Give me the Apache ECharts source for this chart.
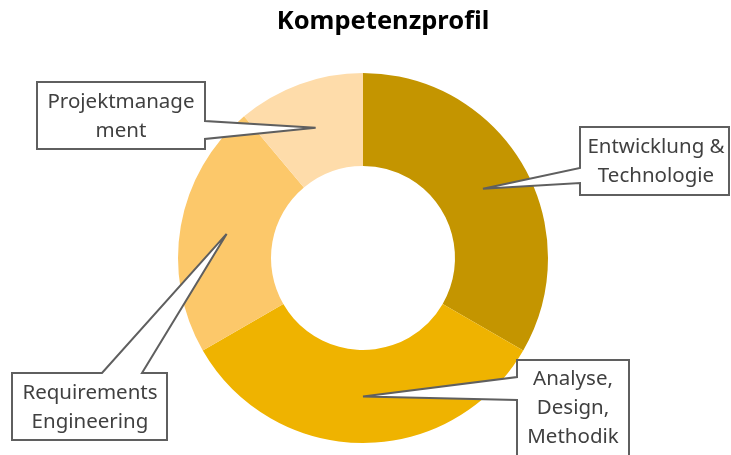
<!DOCTYPE html>
<html>
<head>
<meta charset="utf-8">
<script src="https://cdn.jsdelivr.net/npm/echarts@6/dist/echarts.min.js"></script>
<style>
  html, body { margin: 0; padding: 0; background: #ffffff; }
  #chart { width: 731px; height: 455px; }
</style>
</head>
<body>
<div id="chart"></div>
<script>
// Competence profile: share of each field
const categories = ['Entwicklung & Technologie', 'Analyse, Design, Methodik', 'Requirements Engineering', 'Projektmanagement'];
const values = [3, 3, 2, 1];
const calloutTexts = ['Entwicklung &\nTechnologie', 'Analyse,\nDesign,\nMethodik', 'Requirements\nEngineering', 'Projektmanage\nment'];
const sliceColors = ['#C49500', '#EFB300', '#FCC86A', '#FEDCAA'];
const titleText = 'Kompetenzprofil';

// Callout boxes (pixels): box rect, side the pointer leaves from, and the pointer base span on that side
const callouts = [
  { box: [580, 127, 149, 68], side: 'left', span: [168, 183], textPos: [656, 162] },
  { box: [517, 360, 112, 110], side: 'left', span: [377, 400], textPos: [573, 408] },
  { box: [12, 373, 155, 67], side: 'top', span: [102, 142], textPos: [90, 408] },
  { box: [37, 82, 168, 67], side: 'right', span: [121, 139], textPos: [121, 117] }
];

const chart = echarts.init(document.getElementById('chart'), null, { renderer: 'canvas' });

chart.setOption({
  animation: false,
  backgroundColor: '#ffffff',
  series: [{
    type: 'pie',
    center: [363, 258],
    radius: [92, 185],
    startAngle: 90,
    clockwise: true,
    label: { show: false },
    labelLine: { show: false },
    emphasis: { disabled: true },
    data: categories.map((name, i) => ({
      name: name,
      value: values[i],
      itemStyle: { color: sliceColors[i] }
    }))
  }]
});

// Build a rectangle outline with a pointed wedge reaching to the tip
function calloutPoints(c, tip) {
  const [x, y, w, h] = c.box;
  const [a, b] = c.span;
  const TL = [x, y], TR = [x + w, y], BR = [x + w, y + h], BL = [x, y + h];
  if (c.side === 'top') return [TL, [a, y], tip, [b, y], TR, BR, BL];
  if (c.side === 'right') return [TL, TR, [x + w, a], tip, [x + w, b], BR, BL];
  return [TL, TR, BR, BL, [x, b], tip, [x, a]];
}

const data = chart.getModel().getSeriesByIndex(0).getData();
const graphics = [{
  type: 'text',
  x: 383, y: 22,
  style: {
    text: titleText,
    font: 'bold 25.5px "Noto Sans"',
    fill: '#000000',
    align: 'center',
    verticalAlign: 'middle'
  }
}];

callouts.forEach((c, i) => {
  const lay = data.getItemLayout(i);
  const mid = (lay.startAngle + lay.endAngle) / 2;
  const rm = (lay.r + lay.r0) / 2;
  const tip = [lay.cx + rm * Math.cos(mid), lay.cy + rm * Math.sin(mid)];
  graphics.push({
    type: 'polygon',
    shape: { points: calloutPoints(c, tip) },
    style: { fill: '#ffffff', stroke: '#5f5f5f', lineWidth: 2, lineJoin: 'miter' },
    z: 10
  });
  graphics.push({
    type: 'text',
    x: c.textPos[0], y: c.textPos[1],
    style: {
      text: calloutTexts[i],
      font: '20.5px "Noto Sans"',
      lineHeight: 29,
      fill: '#404040',
      align: 'center',
      verticalAlign: 'middle'
    },
    z: 11
  });
});

chart.setOption({ graphic: graphics });
</script>
</body>
</html>
